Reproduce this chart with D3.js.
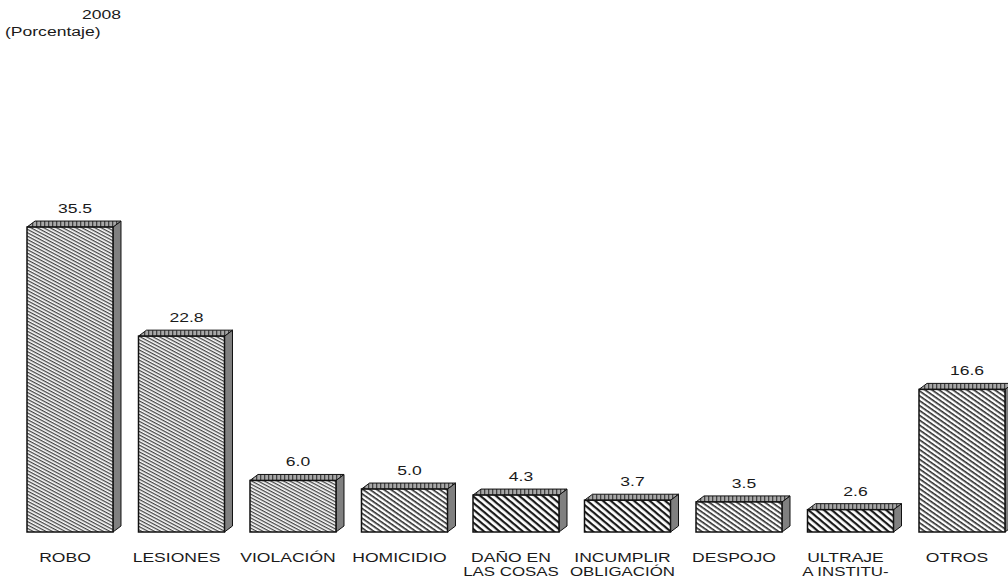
<!DOCTYPE html>
<html>
<head>
<meta charset="utf-8">
<script src="https://cdn.jsdelivr.net/npm/d3@7"></script>
<style>
  body { margin:0; background:#fff; }
  text { font-family: "Liberation Sans", Arial, sans-serif; fill:#1a1a1a; }
</style>
</head>
<body>
<div id="chart"></div>
<script>
// data
var categories = ["ROBO", "LESIONES", "VIOLACIÓN", "HOMICIDIO", "DAÑO EN", "INCUMPLIR", "DESPOJO", "ULTRAJE", "OTROS"];
var labelLines2 = ["", "", "", "", "LAS COSAS", "OBLIGACIÓN", "", "A INSTITU-", ""];
var values = [35.5, 22.8, 6.0, 5.0, 4.3, 3.7, 3.5, 2.6, 16.6];
var valueLabels = ["35.5", "22.8", "6.0", "5.0", "4.3", "3.7", "3.5", "2.6", "16.6"];

var size = { width:1008, height:584 };
var depth = { dx:8, dy:6 };
var stretch = 1.3;

var svg = d3.select("#chart").append("svg")
    .attr("width", size.width).attr("height", size.height);

// hatch patterns
var defs = svg.append("defs");
function hatch(id, spacing, stroke, width, angle) {
    var p = defs.append("pattern").attr("id", id)
        .attr("patternUnits", "userSpaceOnUse")
        .attr("width", spacing).attr("height", spacing)
        .attr("patternTransform", "rotate(" + angle + ")");
    p.append("rect").attr("width", spacing).attr("height", spacing).attr("fill", "#fff");
    p.append("rect").attr("x", 0).attr("y", 0).attr("width", spacing).attr("height", width)
        .attr("fill", stroke);
}
hatch("hFine", 3, "#444", 1.3, 28);
hatch("hMed", 4, "#2a2a2a", 1.6, 35);
hatch("hWide", 5, "#1a1a1a", 2.2, 40);

var topPat = defs.append("pattern").attr("id", "hTop")
    .attr("patternUnits", "userSpaceOnUse").attr("width", 4).attr("height", 4);
topPat.append("rect").attr("width", 4).attr("height", 4).attr("fill", "#a8a8a8");
topPat.append("rect").attr("x", 0).attr("y", 0).attr("width", 1.3).attr("height", 4)
    .attr("fill", "#444");

var frontFill = ["hFine", "hFine", "hFine", "hMed", "hWide", "hWide", "hMed", "hWide", "hMed"];

var x = d3.scaleBand().domain(categories).range([27, 1005])
    .paddingInner(0.2287).paddingOuter(0);
var y = d3.scaleLinear().domain([0, 40]).range([532, 532 - 40 * 8.59]);

var bars = svg.selectAll(".bar").data(values).enter().append("g").attr("class", "bar");

// side face
bars.append("path")
    .attr("d", function(d, i) {
        var x1 = x(categories[i]) + x.bandwidth(), t = y(d), b = y(0);
        return "M" + x1 + "," + t + "L" + (x1 + depth.dx) + "," + (t - depth.dy) +
            "L" + (x1 + depth.dx) + "," + (b - depth.dy) + "L" + x1 + "," + b + "Z";
    })
    .attr("fill", "#808080").attr("stroke", "#111").attr("stroke-width", 1);

// top face
bars.append("path")
    .attr("d", function(d, i) {
        var x0 = x(categories[i]), x1 = x0 + x.bandwidth(), t = y(d);
        return "M" + x0 + "," + t + "L" + (x0 + depth.dx) + "," + (t - depth.dy) +
            "L" + (x1 + depth.dx) + "," + (t - depth.dy) + "L" + x1 + "," + t + "Z";
    })
    .attr("fill", "url(#hTop)").attr("stroke", "#111").attr("stroke-width", 1);

// front face
bars.append("rect")
    .attr("x", function(d, i) { return x(categories[i]); })
    .attr("y", function(d) { return y(d); })
    .attr("width", x.bandwidth())
    .attr("height", function(d) { return y(0) - y(d); })
    .attr("fill", function(d, i) { return "url(#" + frontFill[i] + ")"; })
    .attr("stroke", "#111").attr("stroke-width", 1.5);

// stretched text helper
function label(sel, fx, fy, txt, anchor, fs) {
    sel.append("g")
        .attr("transform", function(d, i) {
            return "translate(" + fx(d, i) + "," + fy(d, i) + ") scale(" + stretch + ",1)";
        })
        .append("text")
        .attr("text-anchor", anchor).attr("font-size", fs || 13.5)
        .text(txt);
}

// value labels
label(bars,
    function(d, i) { return x(categories[i]) + x.bandwidth() / 2 + 5; },
    function(d) { return y(d) - depth.dy - 8; },
    function(d, i) { return valueLabels[i]; }, "middle");

// category labels
label(bars,
    function(d, i) { return x(categories[i]) + x.bandwidth() / 2 - 5; },
    function() { return 562; },
    function(d, i) { return categories[i]; }, "middle");
label(bars,
    function(d, i) { return x(categories[i]) + x.bandwidth() / 2 - 5; },
    function() { return 576; },
    function(d, i) { return labelLines2[i]; }, "middle", 13);

// titles
label(svg, function() { return 82; }, function() { return 19; }, "2008", "start");
label(svg, function() { return 5; }, function() { return 36; }, "(Porcentaje)", "start");
</script>
</body>
</html>
